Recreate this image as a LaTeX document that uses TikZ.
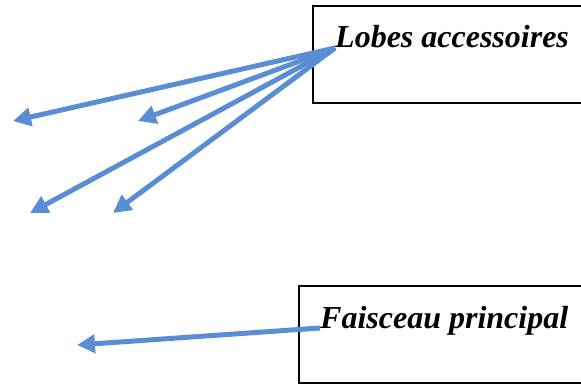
\documentclass[tikz,border=0pt]{standalone}
\usepackage{fontspec}
\setmainfont{Liberation Serif}
\usetikzlibrary{arrows.meta}
\definecolor{lobeblue}{HTML}{5A8ED4}

\begin{document}
\begin{tikzpicture}[x=1pt,y=-1pt,>/.tip={Triangle[length=18pt,width=18pt]}]
	\useasboundingbox (0,0) rectangle (581,385);
	\tikzset{label box/.style={shape=rectangle,draw,line width=1.6pt},
		label text/.style={inner sep=0pt,anchor=base west,font=\fontsize{32}{36}\selectfont\bfseries\itshape},
		beam/.style={->,draw=lobeblue,line width=5pt}}
	\draw (451.5,54.5) node (lbox) [label box,minimum width=277pt,minimum height=97pt] {};
	\draw (444.5,334.5) node (fbox) [label box,minimum width=291pt,minimum height=97pt] {};
	\draw (335,48) node (lobes) [label text] {Lobes accessoires};
	\draw (320,328) node (faisceau) [label text] {Faisceau principal};
	\coordinate (la) at (13,121);
	\coordinate (lb) at (138,121);
	\coordinate (lc) at (30,213);
	\coordinate (ld) at (113,213);
	\coordinate (fa) at (77,345);
	\draw[beam] (lobes.base west) -- (la);
	\draw[beam] (lobes.base west) -- (lb);
	\draw[beam] (lobes.base west) -- (lc);
	\draw[beam] (lobes.base west) -- (ld);
	\draw[beam] (faisceau.base west) -- (fa);
\end{tikzpicture}
\end{document}
